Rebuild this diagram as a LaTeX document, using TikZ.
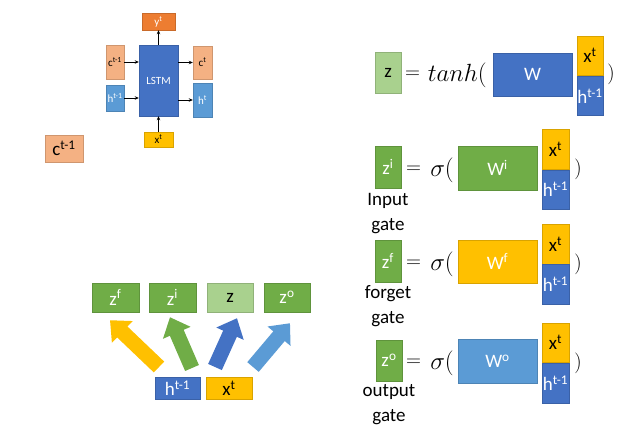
\documentclass[tikz,border=0pt]{standalone}
\usepackage{fontspec}
\setmainfont{Carlito}
\usetikzlibrary{arrows.meta}
\definecolor{gGreen}{HTML}{70AD47}
\definecolor{gLightGreen}{HTML}{A9D18E}
\definecolor{gBlue}{HTML}{4472C4}
\definecolor{gLightBlue}{HTML}{5B9BD5}
\definecolor{gGold}{HTML}{FFC000}
\definecolor{gOrange}{HTML}{ED7D31}
\definecolor{gSalmon}{HTML}{F4B183}
\newcommand{\tsup}[1]{\textsuperscript{#1}}
\tikzset{
  cell/.style={rectangle, inner sep=0pt, line width=0.4pt, font=\fontsize{19}{19}\selectfont},
  greencell/.style={cell, fill=gGreen, draw=gGreen!85!black, text=white},
  palecell/.style={cell, fill=gLightGreen, draw=gLightGreen!85!black, text=black},
  bluecell/.style={cell, fill=gBlue, draw=gBlue!85!black, text=white},
  skycell/.style={cell, fill=gLightBlue, draw=gLightBlue!85!black, text=white},
  goldcell/.style={cell, fill=gGold, draw=gGold!85!black, text=black},
  orangecell/.style={cell, fill=gOrange, draw=gOrange!85!black, text=white},
  salmoncell/.style={cell, fill=gSalmon, draw=gSalmon!85!black, text=black},
  tiny/.style={font=\fontsize{11}{11}\selectfont},
  eqtext/.style={anchor=west, inner sep=0pt, font=\fontsize{22}{22}\selectfont},
  fntext/.style={anchor=east, inner sep=0pt, font=\fontsize{23}{23}\selectfont},
  paren/.style={inner sep=0pt, font=\fontsize{22}{22}\selectfont},
  gatetext/.style={align=center, inner sep=0pt, font=\fontsize{19}{25}\selectfont},
  thinarrow/.style={-{Stealth[length=4pt,width=3.5pt]}, line width=0.8pt},
  fatarrow/.style={line width=15pt, -{Triangle[width=29pt,length=17pt]}}
}
\begin{document}
\begin{tikzpicture}[x=1pt,y=-1pt]
  \useasboundingbox (0,0) rectangle (620,429);

  \node[bluecell, tiny, minimum width=39pt, minimum height=71pt] (lstm) at (158.5,80.5) {LSTM};
  \node[orangecell, tiny, minimum width=33pt, minimum height=17pt] (yt) at (158.5,21.5) {y\tsup{t}};
  \node[salmoncell, tiny, minimum width=18pt, minimum height=34pt] (cprev) at (115,62) {c\tsup{t-1}};
  \node[skycell, tiny, minimum width=18pt, minimum height=26pt] (hprev) at (115,98) {h\tsup{t-1}};
  \node[salmoncell, tiny, minimum width=19pt, minimum height=33pt] (ct) at (202.5,62.5) {c\tsup{t}};
  \node[skycell, tiny, minimum width=19pt, minimum height=34pt] (ht) at (202.5,100) {h\tsup{t}};
  \node[goldcell, tiny, minimum width=29pt, minimum height=15pt] (xt) at (158.5,139.5) {x\tsup{t}};
  \draw[thinarrow] (cprev.east) -- (cprev.east -| lstm.west);
  \draw[thinarrow] (hprev.east) -- (hprev.east -| lstm.west);
  \draw[thinarrow] (lstm.east |- ct) -- (ct.west);
  \draw[thinarrow] (lstm.east |- ht) -- (ht.west);
  \draw[thinarrow] (lstm.north) -- (yt.south);
  \draw[thinarrow] (xt.north) -- (xt.north |- lstm.south);

  \node[salmoncell, minimum width=38pt, minimum height=27pt] (cmem) at (64,148.5) {c\tsup{t-1}};

  \node[palecell, minimum width=26pt, minimum height=41pt] (z) at (388,72.5) {z};
  \node[eqtext] (eqz) at (405,75) {$=$};
  \node[fntext] (fnz) at (487,75) {$tanh($};
  \node[bluecell, minimum width=79pt, minimum height=43pt] (w) at (532.5,74.5) {W};
  \node[goldcell, minimum width=26pt, minimum height=39pt] (xz) at (590,55.5) {x\tsup{t}};
  \node[bluecell, minimum width=26pt, minimum height=39pt] (hz) at (590,96) {h\tsup{t-1}};
  \node[paren] (rz) at (611,74) {$)$};

  \node[greencell, minimum width=26pt, minimum height=42pt] (zi) at (388,167) {z\tsup{i}};
  \node[eqtext] (eqi) at (406,170) {$=$};
  \node[fntext] (fni) at (454,170) {$\sigma($};
  \node[greencell, minimum width=79pt, minimum height=44pt] (wi) at (497.5,168) {W\tsup{i}};
  \node[goldcell, minimum width=27pt, minimum height=40pt] (xi) at (555.5,149) {x\tsup{t}};
  \node[bluecell, minimum width=27pt, minimum height=39pt] (hi) at (555.5,189.5) {h\tsup{t-1}};
  \node[paren] (ri) at (578,169) {$)$};
  \node[gatetext] (gi) at (388,214) {Input\\gate};

  \node[greencell, minimum width=26pt, minimum height=42pt] (zf) at (388,261) {z\tsup{f}};
  \node[eqtext] (eqf) at (406,264) {$=$};
  \node[fntext] (fnf) at (454,264) {$\sigma($};
  \node[goldcell, text=white, minimum width=79pt, minimum height=43pt] (wf) at (497.5,261.5) {W\tsup{f}};
  \node[goldcell, minimum width=27pt, minimum height=40pt] (xf) at (555.5,244) {x\tsup{t}};
  \node[bluecell, minimum width=27pt, minimum height=40pt] (hf) at (555.5,284) {h\tsup{t-1}};
  \node[paren] (rf) at (578,264) {$)$};
  \node[gatetext] (gf) at (388,306.5) {forget\\gate};

  \node[greencell, minimum width=26pt, minimum height=41pt] (zo) at (389,360.5) {z\tsup{o}};
  \node[eqtext] (eqo) at (406,363) {$=$};
  \node[fntext] (fno) at (454,363) {$\sigma($};
  \node[skycell, minimum width=79pt, minimum height=44pt] (wo) at (497.5,361) {W\tsup{o}};
  \node[goldcell, minimum width=27pt, minimum height=39pt] (xo) at (555.5,342.5) {x\tsup{t}};
  \node[bluecell, minimum width=27pt, minimum height=40pt] (ho) at (555.5,383) {h\tsup{t-1}};
  \node[paren] (ro) at (578,363) {$)$};
  \node[gatetext] (go) at (389,405) {output\\gate};

  \node[greencell, minimum width=47pt, minimum height=29pt] (bzf) at (115.5,297.5) {z\tsup{f}};
  \node[greencell, minimum width=47pt, minimum height=29pt] (bzi) at (172.5,297.5) {z\tsup{i}};
  \node[palecell, minimum width=46pt, minimum height=29pt] (bz) at (230,297.5) {z};
  \node[greencell, minimum width=46pt, minimum height=29pt] (bzo) at (287,297.5) {z\tsup{o}};
  \node[bluecell, minimum width=45pt, minimum height=22pt] (bh) at (177.5,388) {h\tsup{t-1}};
  \node[goldcell, minimum width=46pt, minimum height=22pt] (bx) at (229,388) {x\tsup{t}};

  \coordinate (tf) at (159,367);
  \coordinate (ti) at (192,368);
  \coordinate (tz) at (215,367);
  \coordinate (to) at (253,367);
  \draw[fatarrow, gGold] (tf) -- ([shift={(-5.5,8)}]bzf.south);
  \draw[fatarrow, gGreen] (ti) -- ([shift={(-2.5,5)}]bzi.south);
  \draw[fatarrow, gBlue] (tz) -- ([shift={(7,6)}]bz.south);
  \draw[fatarrow, gLightBlue] (to) -- ([shift={(3,11)}]bzo.south);
\end{tikzpicture}
\end{document}
